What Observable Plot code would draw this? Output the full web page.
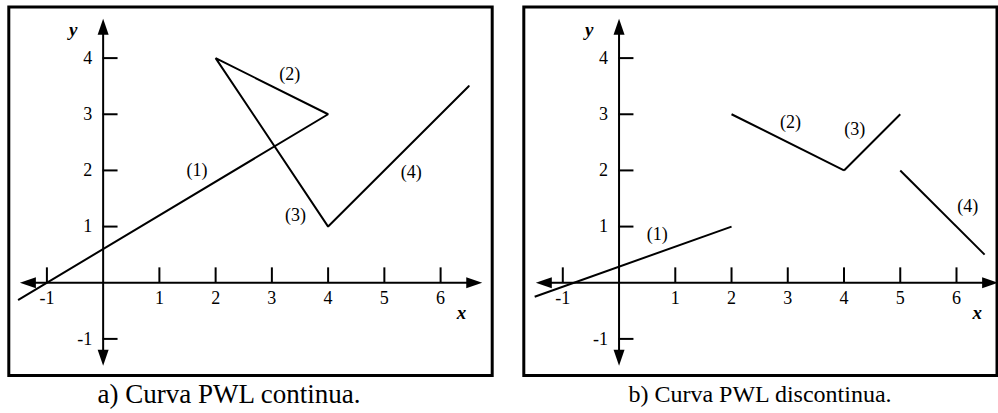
<!DOCTYPE html>
<html>
<head>
<meta charset="utf-8">
<script src="https://cdn.jsdelivr.net/npm/d3@7"></script>
<script src="https://cdn.jsdelivr.net/npm/@observablehq/plot@0.6"></script>
<style>
  body { margin: 0; background: #fff; }
  #fig { position: relative; width: 998px; height: 413px; font-family: "Liberation Serif", "Times New Roman", serif; }
  .panel { position: absolute; top: 0; }
  .cap { position: absolute; text-align: center; white-space: nowrap; color: #000; }
</style>
</head>
<body>
<div id="fig"></div>
<script>
// Axis ticks
const tickValuesX = [-1, 1, 2, 3, 4, 5, 6];
const tickValuesY = [-1, 1, 2, 3, 4];
const tickLabelsX = ["-1", "1", "2", "3", "4", "5", "6"];
const tickLabelsY = ["-1", "1", "2", "3", "4"];

// a) continuous piecewise-linear curve: vertices in order
const contX = [-1.5, 4, 2, 4, 6.5];
const contY = [-0.3, 3, 4, 1, 3.5];
const contLabels = ["(1)", "(2)", "(3)", "(4)"];
const contLabelX = [1.67, 3.32, 3.42, 5.48];
const contLabelY = [2.0, 3.71, 1.21, 1.97];

// b) discontinuous piecewise-linear curve: separate segments
const discX1 = [-1.5, 2, 4, 5];
const discY1 = [-0.25, 3, 2, 2];
const discX2 = [2, 4, 5, 6.5];
const discY2 = [1, 2, 3, 0.5];
const discLabels = ["(1)", "(2)", "(3)", "(4)"];
const discLabelX = [0.68, 3.05, 4.19, 6.2];
const discLabelY = [0.87, 2.86, 2.74, 1.36];

const captions = ["a) Curva PWL continua.", "b) Curva PWL discontinua."];

const SERIF = "Liberation Serif, Times New Roman, serif";

// Filled arrowhead with its tip at the anchor point, pointing along (dx, dy)
function head(dx, dy) {
  return {
    draw(ctx) {
      const L = 16, W = 5.5, px = -dy, py = dx;
      ctx.moveTo(0, 0);
      ctx.lineTo(-dx * L + px * W, -dy * L + py * W);
      ctx.lineTo(-dx * L - px * W, -dy * L - py * W);
      ctx.closePath();
    }
  };
}

const txt = {fontFamily: SERIF, fill: "black", stroke: "none"};

// Cartesian axes drawn through the origin, with arrows at both ends
function axesMarks() {
  const xMin = -1.48, xMax = 6.74, yMin = -1.48, yMax = 4.70, inset = 0.12;
  const arrow = (x, y, s) => Plot.dot([0], {x: () => x, y: () => y, symbol: s, fill: "black", stroke: "none"});
  return [
    Plot.ruleY([0], {x1: xMin + inset, x2: xMax - inset, stroke: "black", strokeWidth: 2}),
    Plot.ruleX([0], {y1: yMin + inset, y2: yMax - inset, stroke: "black", strokeWidth: 2}),
    arrow(xMax, 0, head(1, 0)),
    arrow(xMin, 0, head(-1, 0)),
    arrow(0, yMax, head(0, -1)),
    arrow(0, yMin, head(0, 1)),
    Plot.ruleX(tickValuesX, {x: d => d, y1: 0, y2: 0.265, stroke: "black", strokeWidth: 2}),
    Plot.ruleY(tickValuesY, {y: d => d, x1: 0, x2: 0.265, stroke: "black", strokeWidth: 2}),
    Plot.text(tickValuesX, {x: d => d, y: 0, dy: 15, text: (d, i) => tickLabelsX[i], fontSize: 18, ...txt}),
    Plot.text(tickValuesY, {x: 0, y: d => d, dx: -11, text: (d, i) => tickLabelsY[i], textAnchor: "end", fontSize: 18, ...txt}),
    Plot.text(["y"], {x: -0.53, y: 4.5, text: d => d, fontSize: 19, fontWeight: "bold", fontStyle: "italic", ...txt}),
    Plot.text(["x"], {x: 6.37, y: -0.54, text: d => d, fontSize: 19, fontWeight: "bold", fontStyle: "italic", ...txt})
  ];
}

function panel({width, marginLeft, marginRight, xRange, marks}) {
  return Plot.plot({
    width,
    height: 380,
    marginLeft,
    marginRight,
    marginTop: 6.5,
    marginBottom: 5,
    x: {type: "linear", domain: [-1, 6], range: xRange, axis: null},
    y: {type: "linear", domain: [-1, 4], range: [338.4, 57.6], axis: null},
    style: "font-family: 'Liberation Serif', 'Times New Roman', serif; color: black; background: white; overflow: visible;",
    marks: [
      Plot.frame({stroke: "black", strokeWidth: 3}),
      ...axesMarks(),
      ...marks
    ]
  });
}

const idxCont = d3.range(contX.length);
const idxSeg = d3.range(discX1.length);

const plotA = panel({
  width: 500, marginLeft: 8.3, marginRight: 8.3, xRange: [46.4, 440.1],
  marks: [
    Plot.line(idxCont, {x: i => contX[i], y: i => contY[i], stroke: "black", strokeWidth: 2, strokeLinejoin: "miter"}),
    Plot.text(contLabels, {x: (d, i) => contLabelX[i], y: (d, i) => contLabelY[i], text: d => d, fontSize: 18, ...txt})
  ]
});

const plotB = panel({
  width: 498, marginLeft: 23.3, marginRight: 1.5, xRange: [62.3, 456],
  marks: [
    Plot.link(idxSeg, {x1: i => discX1[i], y1: i => discY1[i], x2: i => discX2[i], y2: i => discY2[i], stroke: "black", strokeWidth: 2}),
    Plot.text(discLabels, {x: (d, i) => discLabelX[i], y: (d, i) => discLabelY[i], text: d => d, fontSize: 18, ...txt})
  ]
});

const fig = document.getElementById("fig");
plotA.classList.add("panel");
plotA.style.left = "0px";
plotB.classList.add("panel");
plotB.style.left = "500px";
fig.append(plotA, plotB);

const capA = document.createElement("div");
capA.className = "cap";
Object.assign(capA.style, {left: "0px", width: "458px", top: "381px", fontSize: "27px", lineHeight: "27px"});
capA.textContent = captions[0];
const capB = document.createElement("div");
capB.className = "cap";
Object.assign(capB.style, {left: "522px", width: "476px", top: "381px", fontSize: "24px", lineHeight: "27px"});
capB.textContent = captions[1];
fig.append(capA, capB);
</script>
</body>
</html>
